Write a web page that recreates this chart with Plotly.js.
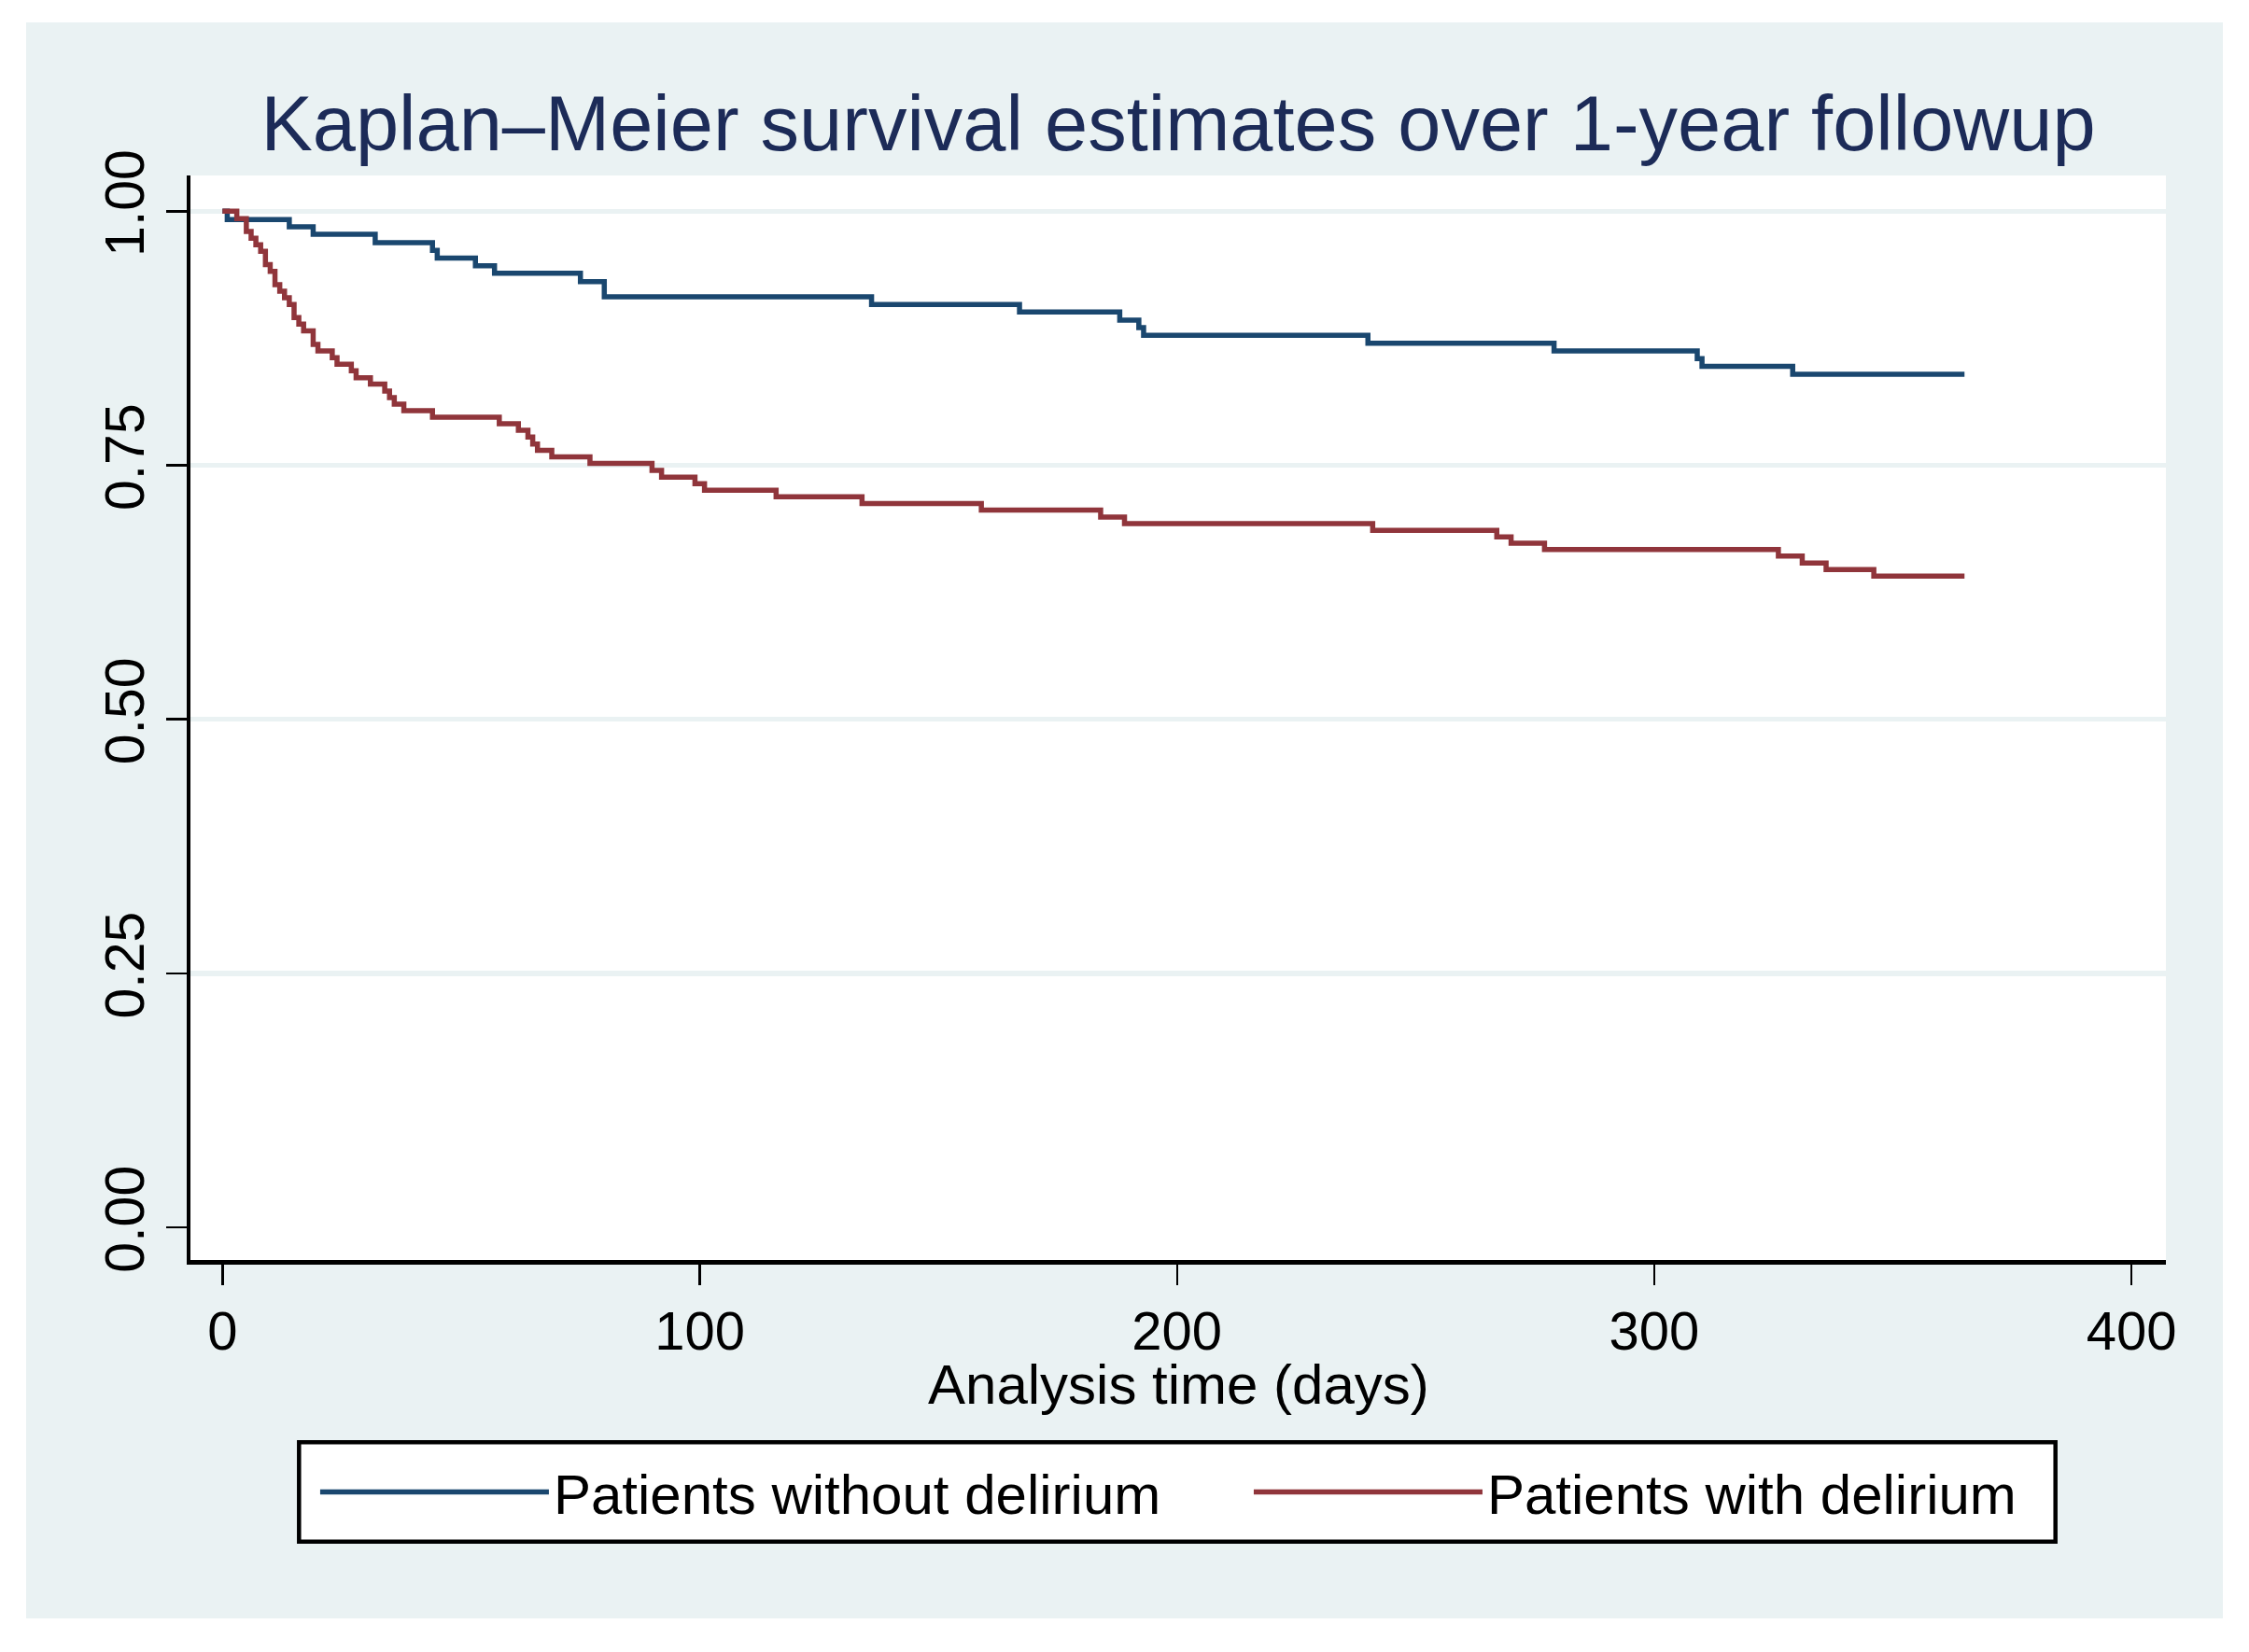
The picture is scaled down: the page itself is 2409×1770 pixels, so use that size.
<!DOCTYPE html>
<html>
<head>
<meta charset="utf-8">
<script src="https://cdn.plot.ly/plotly-3.0.1.min.js"></script>
<style>
  html, body { margin: 0; padding: 0; background: #ffffff; width: 2409px; height: 1770px; overflow: hidden; }
  #chart { position: absolute; left: 28px; top: 24px; width: 2353px; height: 1710px; }
</style>
</head>
<body>
<div id="chart"></div>
<script>
// Kaplan–Meier step data
const timeWithout = [0, 1, 14, 19, 32, 44, 45, 53, 57, 75, 80, 136, 167, 188, 192, 193, 240, 279, 309, 310, 329, 365];
const survWithout = [1.0, 0.9919, 0.9847, 0.9774, 0.9691, 0.9614, 0.9538, 0.9464, 0.9391, 0.9308, 0.9158, 0.9082, 0.9008, 0.8929, 0.8855, 0.8779, 0.8702, 0.8626, 0.8549, 0.8473, 0.8396, 0.8396];

const timeWith = [0, 3, 5, 6, 7, 8, 9, 10, 11, 12, 13, 14, 15, 16, 17, 19, 20, 23, 24, 27, 28, 31, 34, 35, 36, 38, 44, 58, 62, 64, 65, 66, 69, 77, 90, 92, 99, 101, 116, 134, 159, 184, 189, 241, 267, 270, 277, 326, 331, 336, 346, 365];
const survWith = [1.0, 0.9927, 0.9801, 0.9734, 0.9669, 0.9605, 0.9474, 0.9409, 0.9278, 0.9213, 0.9149, 0.9082, 0.8953, 0.8889, 0.8822, 0.8690, 0.8626, 0.8558, 0.8494, 0.8430, 0.8362, 0.8298, 0.8231, 0.8167, 0.8102, 0.8038, 0.7974, 0.7909, 0.7845, 0.7778, 0.7710, 0.7646, 0.7582, 0.7518, 0.7450, 0.7383, 0.7319, 0.7254, 0.7190, 0.7123, 0.7059, 0.6991, 0.6927, 0.6860, 0.6795, 0.6734, 0.6670, 0.6606, 0.6538, 0.6474, 0.6410, 0.6410];

const seriesNames = ['Patients without delirium', 'Patients with delirium'];
const xTickVals = [0, 100, 200, 300, 400];
const xTickText = ['0', '100', '200', '300', '400'];
const yTickVals = [0, 0.25, 0.5, 0.75, 1];
const yTickText = ['0.00', '0.25', '0.50', '0.75', '1.00'];
const yGridVals = [0.25, 0.5, 0.75, 1];
const xAxisTitle = 'Analysis time (days)';

const FONT = 'Liberation Sans, Arial, Helvetica, sans-serif';
const BG = '#EAF2F3';
const BLUE = '#1A476F';
const RED = '#90353B';

const traces = [
  {
    x: timeWithout, y: survWithout, name: seriesNames[0],
    type: 'scatter', mode: 'lines', line: {shape: 'hv', color: BLUE, width: 5.5},
    legendwidth: 740
  },
  {
    x: timeWith, y: survWith, name: seriesNames[1],
    type: 'scatter', mode: 'lines', line: {shape: 'hv', color: RED, width: 5.5},
    legendwidth: 580
  },
  {
    x: [], y: [], yaxis: 'y2', type: 'scatter', mode: 'lines',
    showlegend: false, hoverinfo: 'skip'
  }
];

const yRange = [-0.0321, 1.0352];

const layout = {
  width: 2353, height: 1710,
  margin: {l: 176, r: 61, t: 164, b: 384, pad: 0},
  paper_bgcolor: BG,
  plot_bgcolor: '#ffffff',
  font: {family: FONT, color: '#000000', size: 58},
  showlegend: true,
  title: {
    text: 'Kaplan–Meier survival estimates over 1-year followup',
    font: {family: FONT, size: 83, color: '#1C2B58'},
    x: 0.5, xref: 'paper', xanchor: 'center',
    y: 0.9368, yref: 'container', yanchor: 'middle'
  },
  xaxis: {
    range: [-6.71, 407.2],
    tickmode: 'array', tickvals: xTickVals, ticktext: xTickText,
    ticks: 'outside', ticklen: 22, tickwidth: 2.5, tickcolor: '#000000',
    showline: true, linewidth: 4.5, linecolor: '#000000',
    showgrid: false, zeroline: false,
    tickfont: {family: FONT, size: 58, color: '#000000'},
    automargin: false, fixedrange: true
  },
  yaxis: {
    range: yRange,
    tickmode: 'array', tickvals: yTickVals, ticktext: yTickText,
    tickangle: -90,
    ticks: 'outside', ticklen: 22, tickwidth: 2.5, tickcolor: '#000000',
    showline: true, linewidth: 4.5, linecolor: '#000000',
    showgrid: false, zeroline: false,
    tickfont: {family: FONT, size: 59, color: '#000000'},
    automargin: false, fixedrange: true
  },
  yaxis2: {
    range: yRange, overlaying: 'y', side: 'left',
    tickmode: 'array', tickvals: yGridVals,
    showticklabels: false, ticks: '', showline: false,
    showgrid: true, gridcolor: BG, gridwidth: 5.5, zeroline: false,
    automargin: false, fixedrange: true
  },
  annotations: [
    {
      text: xAxisTitle, xref: 'paper', yref: 'paper',
      x: 0.5, y: -0.1149, xanchor: 'center', yanchor: 'middle',
      showarrow: false, font: {family: FONT, size: 60, color: '#000000'}
    }
  ],
  shapes: [
    {
      type: 'rect', xref: 'paper', yref: 'paper', layer: 'below',
      x0: 0.05496, x1: 0.94409, y0: -0.25964, y1: -0.16807,
      fillcolor: '#ffffff', line: {color: '#000000', width: 4.5}
    }
  ],
  legend: {
    orientation: 'h',
    x: 0.0633, xanchor: 'left', xref: 'paper',
    y: -0.2139, yanchor: 'middle', yref: 'paper',
    bgcolor: 'rgba(0,0,0,0)', borderwidth: 0,
    font: {family: FONT, size: 60, color: '#000000'},
    itemwidth: 245, entrywidthmode: 'pixels',
    traceorder: 'normal', itemclick: false, itemdoubleclick: false
  }
};

Plotly.newPlot('chart', traces, layout, {displayModeBar: false, staticPlot: true});
</script>
</body>
</html>
